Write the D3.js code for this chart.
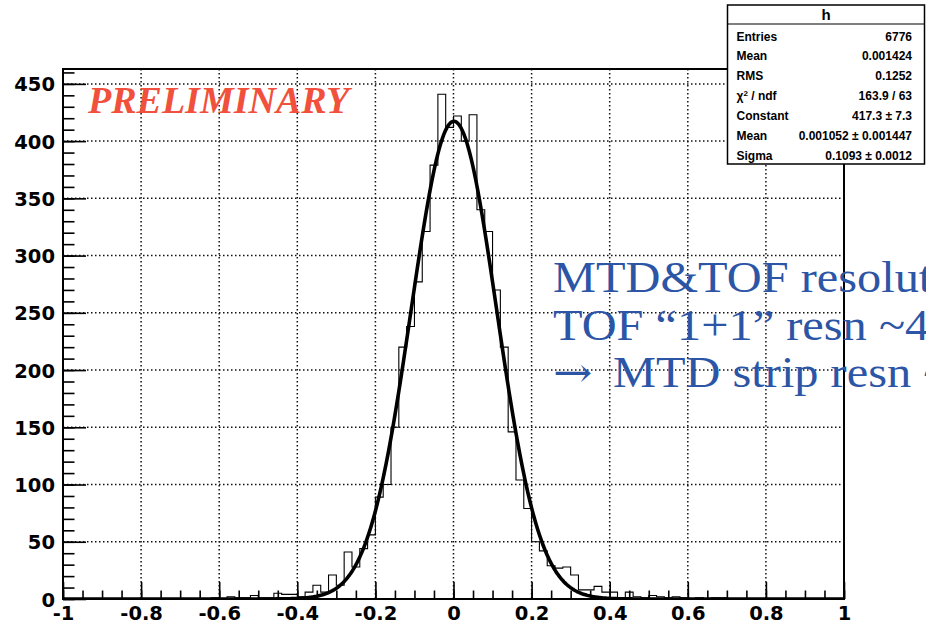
<!DOCTYPE html>
<html>
<head>
<meta charset="utf-8">
<script src="https://cdn.jsdelivr.net/npm/d3@7"></script>
<style>
  html, body { margin: 0; padding: 0; background: #fff; overflow: hidden; }
  svg { display: block; }
</style>
</head>
<body>
<svg id="chart" width="926" height="626"></svg>
<script>
// Histogram "h": 100 bins of width 0.02 on [-1, 1]
const binLow = -1;
const binWidth = 0.02;
const binCounts = [
  0, 0, 0, 0, 0, 0, 0, 0, 0, 0,
  0, 0, 0, 0, 0, 0, 0, 0, 0, 1,
  0, 2, 1, 1, 3, 1, 1, 5, 4, 4,
  2, 6, 12, 6, 21, 12, 41, 28, 44, 56,
  89, 100, 150, 220, 238, 277, 321, 379, 441, 412,
  422, 400, 423, 340, 321, 270, 220, 146, 104, 79,
  50, 42, 29, 27, 28, 21, 8, 8, 11, 6,
  6, 1, 6, 2, 1, 3, 2, 1, 2, 1,
  0, 1, 0, 1, 1, 0, 0, 0, 0, 0,
  0, 0, 0, 0, 0, 0, 0, 0, 0, 0
];

// Gaussian fit parameters
const fitConstant = 417.3;
const fitMean = 0.001052;
const fitSigma = 0.1093;

// Axis ticks
const xMajorTicks = [-1, -0.8, -0.6, -0.4, -0.2, 0, 0.2, 0.4, 0.6, 0.8, 1];
const xTickLabels = ["-1", "-0.8", "-0.6", "-0.4", "-0.2", "0", "0.2", "0.4", "0.6", "0.8", "1"];
const yMajorTicks = [0, 50, 100, 150, 200, 250, 300, 350, 400, 450];
const yTickLabels = ["0", "50", "100", "150", "200", "250", "300", "350", "400", "450"];

// Statistics box
const statsTitle = "h";
const statsNames = ["Entries", "Mean", "RMS", "χ2 / ndf", "Constant", "Mean", "Sigma"];
const statsValues = ["6776", "0.001424", "0.1252", "163.9 / 63", "417.3 ± 7.3", "0.001052 ± 0.001447", "0.1093 ± 0.0012"];

// Annotations
const stampText = "PRELIMINARY";
const noteLines = ["MTD&TOF resolut", "TOF \u201C1+1\u201D resn ~4", "MTD strip resn ~"];
const noteArrow = "\u2192";

const svg = d3.select("#chart");
const frame = { left: 63, right: 844, top: 69, bottom: 599 };

const x = d3.scaleLinear().domain([-1, 1]).range([frame.left, frame.right]);
const y = d3.scaleLinear().domain([0, 463]).range([frame.bottom, frame.top]);

const sans = "'Liberation Sans', Arial, Helvetica, sans-serif";
const tickFont = "'DejaVu Sans', 'Liberation Sans', sans-serif";
const serif = "'Liberation Serif', 'Times New Roman', Times, serif";

svg.append("defs").append("clipPath").attr("id", "plotClip")
  .append("rect")
  .attr("x", frame.left).attr("y", frame.top)
  .attr("width", frame.right - frame.left).attr("height", frame.bottom - frame.top);

// Dotted grid
const grid = svg.append("g").attr("stroke", "#111").attr("stroke-width", 1.5)
  .attr("stroke-dasharray", "1.5,2.5");
grid.selectAll("line.gx").data(xMajorTicks.slice(1, -1)).join("line")
  .attr("x1", d => x(d)).attr("x2", d => x(d))
  .attr("y1", frame.top).attr("y2", frame.bottom);
grid.selectAll("line.gy").data(yMajorTicks.slice(1)).join("line")
  .attr("x1", frame.left).attr("x2", frame.right)
  .attr("y1", d => y(d)).attr("y2", d => y(d));

// Histogram outline
const histPts = binCounts.map((c, i) => [binLow + i * binWidth, c]);
histPts.push([binLow + binCounts.length * binWidth, binCounts[binCounts.length - 1]]);
const stepLine = d3.line().x(d => x(d[0])).y(d => y(d[1])).curve(d3.curveStepAfter);
svg.append("path")
  .attr("clip-path", "url(#plotClip)")
  .attr("d", stepLine(histPts))
  .attr("fill", "none").attr("stroke", "#000").attr("stroke-width", 1.1);

// Gaussian fit curve
const gauss = v => fitConstant * Math.exp(-0.5 * Math.pow((v - fitMean) / fitSigma, 2));
const fitX = d3.range(0, 801).map(i => -1 + i * 0.0025);
const fitLine = d3.line().x(d => x(d)).y(d => y(gauss(d))).curve(d3.curveLinear);
svg.append("path")
  .attr("clip-path", "url(#plotClip)")
  .attr("d", fitLine(fitX))
  .attr("fill", "none").attr("stroke", "#000").attr("stroke-width", 3.6)
  .attr("stroke-linejoin", "round");

// Axes: major and minor ticks pointing into the frame
const yAxis = d3.axisLeft(y).tickValues(yMajorTicks)
  .tickFormat((d, i) => yTickLabels[i]).tickSizeInner(-23).tickSizeOuter(0).tickPadding(8);
const yMinor = d3.axisLeft(y).tickValues(d3.range(0, 461, 10))
  .tickFormat("").tickSizeInner(-11.5).tickSizeOuter(0);
const xAxis = d3.axisBottom(x).tickValues(xMajorTicks)
  .tickFormat((d, i) => xTickLabels[i]).tickSizeInner(-17).tickSizeOuter(0).tickPadding(6);
const xMinor = d3.axisBottom(x).tickValues(d3.range(0, 41).map(i => -1 + i * 0.05))
  .tickFormat("").tickSizeInner(-8.5).tickSizeOuter(0);

function styleAxis(g) {
  g.select(".domain").remove();
  g.selectAll(".tick line").attr("stroke", "#000").attr("stroke-width", 1.6);
  g.selectAll(".tick text").attr("fill", "#000")
    .style("font-family", tickFont).style("font-weight", "bold").style("font-size", "19.5px");
}
svg.append("g").attr("transform", `translate(${frame.left},0)`).call(yMinor).call(styleAxis);
svg.append("g").attr("transform", `translate(${frame.left},0)`).call(yAxis).call(styleAxis)
  .selectAll(".tick text").attr("dy", "0.36em");
svg.append("g").attr("transform", `translate(0,${frame.bottom})`).call(xMinor).call(styleAxis);
svg.append("g").attr("transform", `translate(0,${frame.bottom})`).call(xAxis).call(styleAxis)
  .selectAll(".tick text").attr("dy", "0.75em");

// Frame
svg.append("rect")
  .attr("x", frame.left).attr("y", frame.top)
  .attr("width", frame.right - frame.left).attr("height", frame.bottom - frame.top)
  .attr("fill", "none").attr("stroke", "#000").attr("stroke-width", 2);

// Preliminary stamp
svg.append("text")
  .attr("x", 88).attr("y", 113)
  .style("font-family", serif).style("font-weight", "bold").style("font-style", "italic")
  .style("font-size", "38px").attr("fill", "#f0503c")
  .text(stampText);

// Blue note text, slightly wide-set serif
const note = svg.append("g").attr("fill", "#2c55a6")
  .style("font-family", serif).style("font-size", "45px");
note.selectAll("text").data(noteLines).join("text")
  .attr("transform", (d, i) => `translate(${i === 2 ? 613 : 553},${292 + i * 47.5}) scale(1.075,1)`)
  .text(d => d);
note.append("text")
  .attr("transform", `translate(553,${292 + 2 * 47.5}) scale(1.12,1)`)
  .style("font-family", "'DejaVu Serif', serif").style("font-size", "42px")
  .text(noteArrow);

// Statistics box
const box = { x: 727.5, y: 5, w: 197, h: 159, titleH: 19 };
const sb = svg.append("g");
sb.append("rect").attr("x", box.x).attr("y", box.y).attr("width", box.w).attr("height", box.h)
  .attr("fill", "#fff").attr("stroke", "#000").attr("stroke-width", 1.5);
sb.append("line").attr("x1", box.x).attr("x2", box.x + box.w)
  .attr("y1", box.y + box.titleH).attr("y2", box.y + box.titleH)
  .attr("stroke", "#000").attr("stroke-width", 1.2);
sb.append("text").attr("x", box.x + box.w / 2).attr("y", box.y + 15)
  .attr("text-anchor", "middle")
  .style("font-family", sans).style("font-weight", "bold").style("font-size", "15px")
  .text(statsTitle);
const rowY = i => 40.5 + i * 19.9;
sb.selectAll("text.name").data(statsNames).join("text")
  .attr("class", "name")
  .attr("x", 736.5).attr("y", (d, i) => rowY(i))
  .style("font-family", sans).style("font-weight", "bold").style("font-size", "12px")
  .each(function (d) {
    const t = d3.select(this);
    if (d.startsWith("χ2")) {
      t.append("tspan").text("χ");
      t.append("tspan").attr("dy", -4).style("font-size", "8px").text("2");
      t.append("tspan").attr("dy", 4).text(" / ndf");
    } else {
      t.text(d);
    }
  });
sb.selectAll("text.val").data(statsValues).join("text")
  .attr("class", "val")
  .attr("x", 912).attr("y", (d, i) => rowY(i))
  .attr("text-anchor", "end")
  .style("font-family", sans).style("font-weight", "bold").style("font-size", "12px")
  .text(d => d);
</script>
</body>
</html>
